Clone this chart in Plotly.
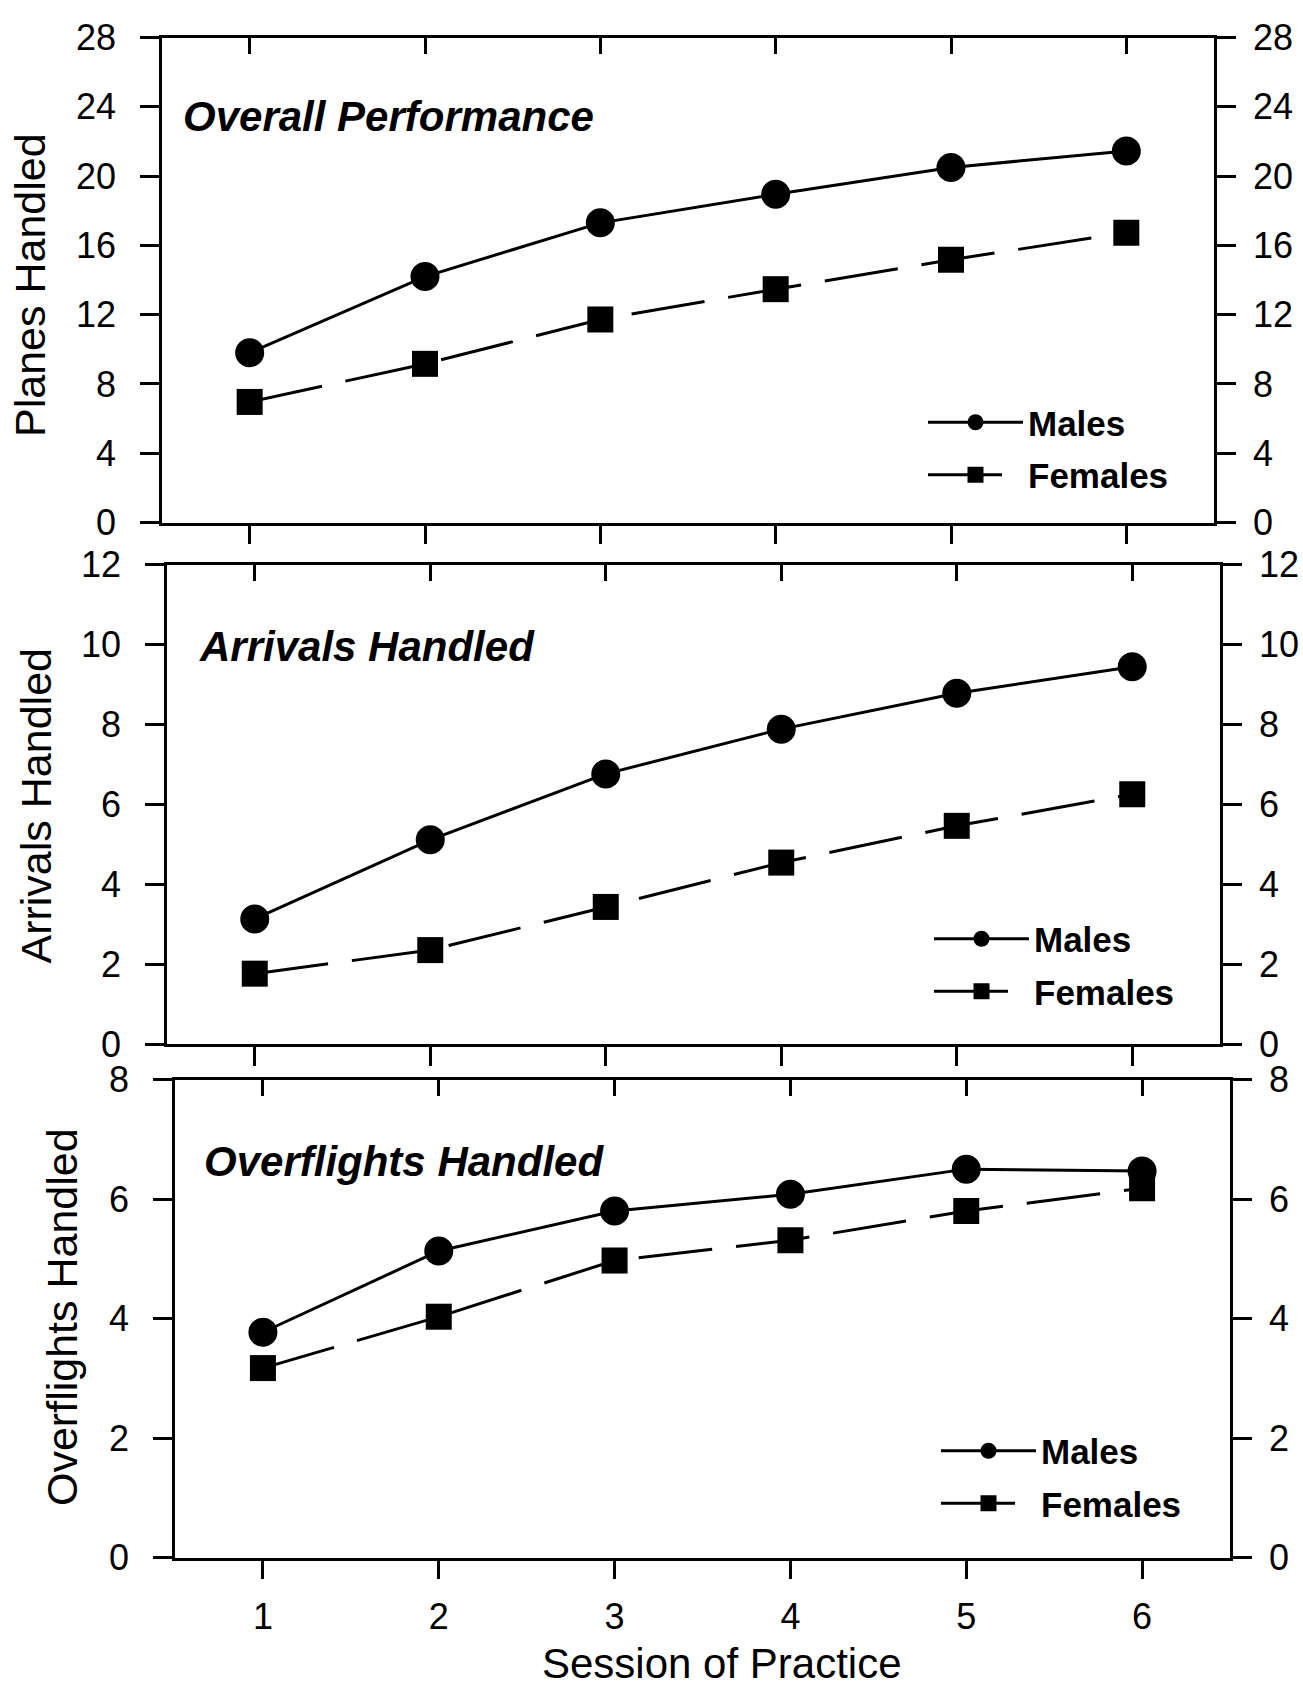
import plotly.graph_objects as go

sessions = [1, 2, 3, 4, 5, 6]
session_labels = ["1", "2", "3", "4", "5", "6"]

overall_males = [9.8, 14.2, 17.3, 18.95, 20.5, 21.45]
overall_females = [6.96, 9.16, 11.72, 13.47, 15.17, 16.73]
arrivals_males = [3.13, 5.11, 6.76, 7.88, 8.78, 9.44]
arrivals_females = [1.76, 2.35, 3.43, 4.54, 5.46, 6.25]
overflights_males = [3.77, 5.13, 5.80, 6.08, 6.50, 6.47]
overflights_females = [3.17, 4.03, 4.97, 5.31, 5.80, 6.18]

panel_titles = ["Overall Performance", "Arrivals Handled", "Overflights Handled"]
y_titles = ["Planes Handled", "Arrivals Handled", "Overflights Handled"]
y_ranges = [[0, 28], [0, 12], [0, 8]]
y_dticks = [4, 2, 2]
x_title = "Session of Practice"
series_names = ["Males", "Females"]

W, H = 1303, 1686
FONT = "Liberation Sans, Arial, Helvetica, sans-serif"

def px_x(p):
    return p / W

def py_y(p):
    return 1 - p / H

# panel frames in pixels: (left, right, top, bottom)
frames = [(162, 1214, 37.5, 522.5), (167, 1220, 564.5, 1044), (175, 1230, 1079.5, 1557.5)]
title_pos = [(181, 116), (197, 647), (202, 1161)]
ytitle_pos = [(30, 285), (35.5, 806), (62, 1317)]
legend_pos = [(923, 448.5), (929, 965), (936, 1477)]

data = [(overall_males, overall_females), (arrivals_males, arrivals_females),
        (overflights_males, overflights_females)]

fig = go.Figure()
layout = dict(
    width=W, height=H, margin=dict(l=0, r=0, t=0, b=0, autoexpand=False),
    paper_bgcolor="white", plot_bgcolor="white",
    font=dict(family=FONT, color="black"),
    showlegend=True,
)
annotations = []

for i in range(3):
    n = i + 1
    bx = "x" if n == 1 else f"x{n}"
    by = "y" if n == 1 else f"y{n}"
    tx = f"x{n+3}"
    ry = f"y{n+3}"
    leg = "legend" if n == 1 else f"legend{n}"
    males, females = data[i]

    fig.add_trace(go.Scatter(
        x=sessions, y=males, xaxis=bx, yaxis=by, name=series_names[0],
        mode="lines+markers", legend=leg, legendgroup=f"m{n}",
        line=dict(color="black", width=3),
        marker=dict(symbol="circle", size=29, color="black"),
    ))
    fig.add_trace(go.Scatter(
        x=sessions, y=females, xaxis=tx, yaxis=ry, name=series_names[1],
        mode="lines+markers", legend=leg, legendgroup=f"f{n}",
        line=dict(color="black", width=3, dash="74px,24px"),
        marker=dict(symbol="square", size=26, color="black"),
    ))

    l, r, t, b = frames[i]
    xdom = [px_x(l), px_x(r)]
    ydom = [py_y(b), py_y(t)]
    axis_common = dict(showline=True, linecolor="black", linewidth=2.5,
                       showgrid=False, zeroline=False, tickcolor="black",
                       tickwidth=2.5, automargin=False)
    layout["xaxis" if n == 1 else f"xaxis{n}"] = dict(
        domain=xdom, anchor=by, range=[0.5, 6.5], tickmode="array",
        tickvals=sessions, ticktext=session_labels, ticks="outside", ticklen=19,
        showticklabels=(n == 3), ticklabelstandoff=7,
        tickfont=dict(size=36, family=FONT, color="black"), **axis_common)
    layout["yaxis" if n == 1 else f"yaxis{n}"] = dict(
        domain=ydom, anchor=bx, range=y_ranges[i], dtick=y_dticks[i], tick0=0,
        ticks="outside", ticklen=19, side="left", ticklabelstandoff=17,
        tickfont=dict(size=36, family=FONT, color="black"), **axis_common)
    layout[f"xaxis{n+3}"] = dict(
        overlaying=bx, anchor=ry, side="top", range=[0.5, 6.5], tickmode="array",
        tickvals=sessions, ticks="inside", ticklen=17, showticklabels=False,
        **axis_common)
    layout[f"yaxis{n+3}"] = dict(
        overlaying=by, anchor=tx, side="right", range=y_ranges[i],
        dtick=y_dticks[i], tick0=0, ticks="outside", ticklen=19,
        ticklabelstandoff=10,
        tickfont=dict(size=36, family=FONT, color="black"), **axis_common)

    lx, ly = legend_pos[i]
    layout[leg] = dict(
        x=px_x(lx), y=py_y(ly), xanchor="left", yanchor="middle",
        bgcolor="rgba(0,0,0,0)", borderwidth=0, itemwidth=95,
        tracegroupgap=4, itemclick=False,
        font=dict(size=35, family=FONT, color="black", weight="bold"),
    )

    tx_, ty_ = title_pos[i]
    annotations.append(dict(
        text=f"<b><i>{panel_titles[i]}</i></b>", xref="paper", yref="paper",
        x=px_x(tx_), y=py_y(ty_), xanchor="left", yanchor="middle",
        showarrow=False, font=dict(size=42, family=FONT, color="black")))
    ax_, ay_ = ytitle_pos[i]
    annotations.append(dict(
        text=y_titles[i], xref="paper", yref="paper", x=px_x(ax_), y=py_y(ay_),
        xanchor="center", yanchor="middle", textangle=-90, showarrow=False,
        font=dict(size=43, family=FONT, color="black")))

annotations.append(dict(
    text=x_title, xref="paper", yref="paper", x=px_x(722), y=py_y(1663),
    xanchor="center", yanchor="middle", showarrow=False,
    font=dict(size=42, family=FONT, color="black")))
layout["annotations"] = annotations

fig.update_layout(**layout)
fig.write_html("out.html",
               config={"displayModeBar": False},
               post_script="document.body.style.margin='0px';")
